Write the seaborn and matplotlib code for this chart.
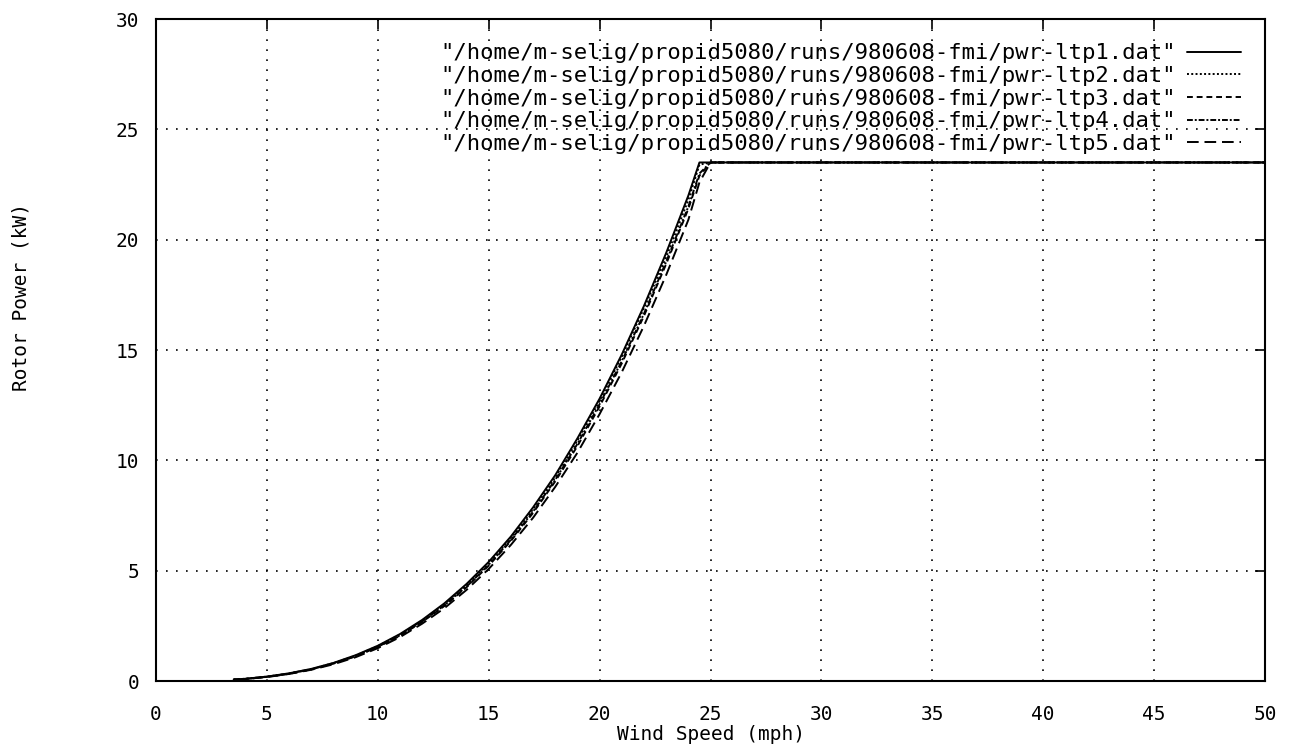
import matplotlib
matplotlib.use("Agg")
import matplotlib.pyplot as plt
import pandas as pd
import seaborn as sns

# wind speed (mph) and rotor power (kW)
speed = [3.5, 4, 5, 6, 7, 8, 9, 10, 11, 12, 13, 14, 15, 16, 17, 18, 19, 20,
         21, 22, 23, 24, 24.5, 25, 50]
power_ltp1 = [0.07, 0.10, 0.20, 0.35, 0.55, 0.82, 1.17, 1.60, 2.13, 2.77, 3.52,
              4.40, 5.40, 6.55, 7.87, 9.33, 11.0, 12.8, 14.8, 17.0, 19.4, 22.0,
              23.5, 23.5, 23.5]
power_ltp2 = [0.07, 0.10, 0.20, 0.34, 0.54, 0.81, 1.15, 1.58, 2.10, 2.74, 3.48,
              4.35, 5.35, 6.48, 7.78, 9.23, 10.9, 12.7, 14.7, 16.9, 19.2, 21.8,
              23.4, 23.5, 23.5]
power_ltp3 = [0.06, 0.09, 0.19, 0.33, 0.53, 0.79, 1.12, 1.54, 2.05, 2.68, 3.40,
              4.25, 5.23, 6.35, 7.62, 9.05, 10.65, 12.45, 14.4, 16.55, 18.9, 21.4,
              22.9, 23.5, 23.5]
power_ltp4 = [0.06, 0.09, 0.19, 0.33, 0.53, 0.80, 1.13, 1.55, 2.07, 2.70, 3.43,
              4.28, 5.27, 6.40, 7.68, 9.12, 10.75, 12.55, 14.5, 16.65, 19.0, 21.5,
              23.0, 23.5, 23.5]
power_ltp5 = [0.06, 0.09, 0.18, 0.32, 0.51, 0.76, 1.08, 1.49, 1.99, 2.60, 3.30,
              4.13, 5.08, 6.17, 7.40, 8.80, 10.35, 12.1, 14.0, 16.1, 18.4, 20.9,
              22.6, 23.5, 23.5]

series_names = [f'"/home/m-selig/propid5080/runs/980608-fmi/pwr-ltp{i}.dat"' for i in range(1, 6)]
series_power = [power_ltp1, power_ltp2, power_ltp3, power_ltp4, power_ltp5]
line_styles = ["-", (0, (1, 1.2)), (0, (3, 2)), (0, (3, 1, 1, 1)), (0, (6, 3))]

sns.set_style("white")
plt.rcParams["font.family"] = ["DejaVu Sans Mono", "DejaVu Sans"]
plt.rcParams["text.color"] = "black"
plt.rcParams["axes.labelcolor"] = "black"

fig = plt.figure(figsize=(12.96, 7.46), dpi=100)
ax = fig.add_axes([0.1204, 0.0871, 0.8557, 0.8874])

for name, power, ls in zip(series_names, series_power, line_styles):
    df = pd.DataFrame({"speed": speed, "power": power})
    sns.lineplot(data=df, x="speed", y="power", ax=ax, color="black",
                 linestyle=ls, linewidth=1.4, label=name)

ax.set_xlim(0, 50)
ax.set_ylim(0, 30)
ax.set_xticks(range(0, 51, 5))
ax.set_yticks(range(0, 31, 5))
ax.tick_params(direction="in", length=7, width=1.2, top=True, right=True,
               labelsize=14, colors="black", pad=12)
ax.tick_params(axis="x", pad=17)
ax.grid(True, color="black", linestyle=(0, (1, 5)), linewidth=1.2)
for sp in ax.spines.values():
    sp.set_color("black")
    sp.set_linewidth(1.5)

ax.set_xlabel("Wind Speed (mph)", fontsize=14, labelpad=1, color="black")
ax.set_ylabel("Rotor Power (kW)", fontsize=14, color="black")
ax.yaxis.set_label_coords(-0.113, 0.58)

leg = ax.legend(loc="upper right", frameon=False, markerfirst=False,
                fontsize=16, handlelength=2.4, labelspacing=0.12,
                borderaxespad=0.7, handletextpad=0.5)
for t in leg.get_texts():
    t.set_color("black")

fig.savefig("out.png", dpi=100)
